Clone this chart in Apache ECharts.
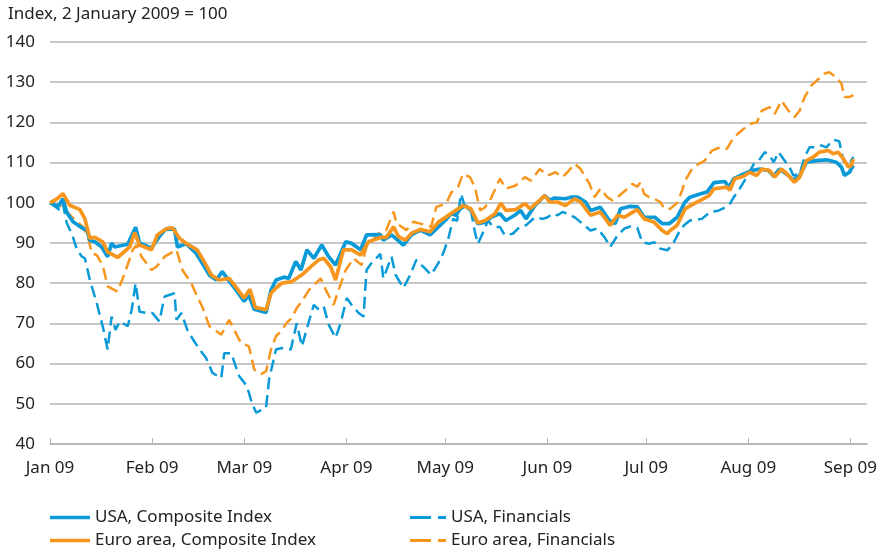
<!DOCTYPE html>
<html>
<head>
<meta charset="utf-8">
<script src="https://cdn.jsdelivr.net/npm/echarts@6/dist/echarts.min.js"></script>
<style>
  html, body { margin: 0; padding: 0; background: #fff; }
  #chart { width: 880px; height: 553px; }
</style>
</head>
<body>
<div id="chart"></div>
<script>
// x values are days since 1 January 2009
const monthStartDays = [0, 31, 59, 90, 120, 151, 181, 212, 243]
const monthLabels = ['Jan 09', 'Feb 09', 'Mar 09', 'Apr 09', 'May 09', 'Jun 09', 'Jul 09', 'Aug 09', 'Sep 09']

// USA, Composite Index
const usaCompDays = [0, 1.5, 2.4, 3.9, 5.1, 7.0, 10.0, 11.2, 12.1, 13.6, 15.7, 17.5, 18.7, 19.6, 23.6, 26.0, 27.2, 30.8, 33.2, 35.1,
  37.8, 38.7, 41.4, 44.4, 46.2, 48.4, 50.5, 52.3, 53.8, 56.5, 58.9, 60.4, 62.0, 65.6, 67.1, 68.6, 71.0, 72.5, 74.6, 76.2,
  78.0, 80.1, 82.5, 84.6, 86.7, 89.8, 91.6, 94.3, 96.1, 100.3, 101.2, 103.7, 107.3, 109.7, 112.4, 115.4, 117.9, 120.0, 121.8, 123.3,
  124.5, 126.0, 127.8, 129.9, 132.1, 133.9, 136.6, 138.4, 141.1, 142.9, 144.5, 147.2, 150.2, 151.7, 153.2, 156.5, 158.1, 160.2, 162.6, 164.1,
  167.1, 169.8, 171.6, 173.2, 175.9, 178.3, 180.4, 183.7, 185.9, 188.0, 190.4, 192.8, 194.3, 197.3, 199.5, 201.6, 204.9, 206.1, 207.6, 210.6,
  213.0, 215.5, 218.2, 219.7, 221.5, 224.2, 225.7, 227.6, 229.7, 232.7, 235.7, 238.7, 240.3, 241.2, 242.7, 243.9]
const usaCompVals = [100, 99.5, 99, 101, 97.6, 95.3, 93.6, 93.2, 90.7, 90.3, 89, 86.6, 90, 89, 89.7, 93.9, 90, 88.7, 91.6, 93.4,
  93.5, 89, 89.8, 87.4, 85, 82, 80.8, 82.9, 81.2, 78.3, 75.5, 77, 73.5, 72.7, 78.3, 80.8, 81.5, 81.2, 85.4, 83.3,
  88.3, 86.2, 89.5, 86.6, 84.5, 90.3, 89.9, 88.3, 92, 92.1, 90.7, 92, 89.5, 92, 93.2, 92, 94, 95.6, 97.3, 96.9,
  98.5, 99.3, 98.1, 94.8, 95.2, 96.4, 97.3, 95.6, 96.9, 98.1, 96, 99.3, 101.8, 100.6, 101.2, 101, 101.4, 101.4, 100.2, 98.1,
  98.9, 95.6, 94.8, 98.5, 99.1, 99, 96.4, 96.4, 94.8, 94.8, 96.4, 100.2, 101.4, 102.2, 102.7, 105, 105.3, 103.9, 106, 107.2,
  108, 108.4, 108, 106.6, 108.4, 106.8, 105.6, 106.8, 110.1, 110.5, 110.7, 110.1, 108.9, 106.8, 107.6, 109.3]

// Euro area, Composite Index
const euroCompDays = [0, 2.1, 3.9, 6.0, 9.1, 10.6, 12.1, 13.6, 16.0, 17.5, 20.5, 24.2, 25.7, 27.2, 30.8, 32.6, 35.4, 37.2, 39.3, 41.7,
  44.7, 47.4, 49.0, 51.4, 54.4, 57.4, 58.9, 60.7, 62.3, 65.6, 67.1, 68.6, 70.4, 73.4, 76.5, 79.2, 81.6, 83.1, 85.2, 86.7,
  89.1, 91.6, 94.3, 96.7, 100.6, 102.1, 104.3, 105.8, 107.9, 109.7, 112.4, 115.4, 117.9, 120.3, 122.4, 123.9, 125.4, 127.8, 129.9, 132.1,
  135.1, 136.9, 138.4, 141.4, 144.2, 145.7, 148.1, 150.2, 151.7, 154.1, 156.5, 159.3, 161.1, 164.1, 167.1, 170.1, 172.3, 174.4, 176.2, 178.3,
  180.4, 183.4, 185.9, 187.4, 188.3, 190.4, 192.8, 195.5, 197.9, 200.1, 201.6, 205.5, 206.4, 207.9, 210.6, 212.4, 214.6, 216.1, 218.5, 220.0,
  222.1, 224.2, 226.0, 227.6, 229.7, 231.8, 233.6, 236.3, 237.8, 239.3, 240.9, 242.4, 243.3, 243.9]
const euroCompVals = [100, 101, 102.3, 99.4, 98.3, 96, 91.2, 91.4, 90.3, 87.8, 86.4, 89, 92.6, 89.5, 88.3, 92, 93.6, 93.8, 91.2, 89.7,
  88.3, 84.5, 82, 80.8, 81.2, 78, 76.3, 78.5, 74, 73.4, 77.5, 78.8, 80, 80.4, 82.1, 84.1, 85.8, 86.2, 84.1, 80.8,
  88.3, 88.3, 87, 90.3, 91.4, 91.4, 94, 91.6, 90.7, 92.4, 93.4, 92.8, 95.2, 96.5, 97.7, 98.5, 99.3, 98.5, 95, 95.6,
  97.3, 99.9, 98.1, 98.3, 99.8, 98.5, 100.2, 101.8, 100.2, 100.2, 99.3, 101, 100.2, 96.9, 97.7, 94.4, 96.9, 96.4, 97.3, 98.3,
  96, 95.2, 93.1, 92.3, 93.1, 94.4, 98.5, 99.8, 100.8, 101.8, 103.5, 103.9, 103.1, 106, 106.6, 107.6, 106.8, 108.4, 108, 106.4,
  108.4, 106.8, 105.1, 106.4, 110.5, 111.4, 112.6, 113, 112.2, 112.6, 110.9, 108.9, 109.3, 110.9]

// USA, Financials
const usaFinDays = [0, 3.0, 3.9, 5.1, 6.6, 8.2, 9.7, 10.6, 12.1, 14.2, 16.0, 17.5, 18.7, 19.9, 21.2, 23.6, 24.8, 26.0, 27.2, 29.3,
  31.1, 33.2, 34.8, 37.8, 38.4, 39.9, 41.7, 43.8, 45.9, 47.4, 49.3, 52.0, 52.9, 55.0, 57.4, 59.8, 61.3, 62.6, 65.6, 66.5,
  68.6, 70.4, 73.1, 74.9, 76.5, 78.6, 80.1, 81.6, 83.1, 84.6, 86.7, 88.2, 90.1, 91.6, 93.7, 95.2, 96.1, 97.6, 100.3, 101.2,
  103.7, 104.9, 107.3, 109.4, 111.2, 113.3, 115.7, 117.9, 119.4, 120.9, 122.4, 123.6, 124.8, 126.0, 127.8, 129.0, 129.9, 131.5, 133.0, 134.5,
  136.6, 138.1, 140.5, 142.6, 144.5, 147.2, 149.6, 151.1, 152.6, 154.1, 155.6, 157.1, 159.3, 161.7, 164.1, 166.2, 168.3, 170.1, 172.3, 174.4,
  176.2, 178.3, 179.8, 181.9, 183.4, 185.3, 187.4, 188.9, 191.0, 192.5, 194.3, 197.9, 200.4, 203.1, 206.1, 207.6, 209.4, 211.5, 213.7, 215.2,
  217.0, 218.5, 219.7, 221.2, 223.0, 224.5, 225.7, 227.6, 229.1, 230.6, 232.7, 234.2, 235.7, 237.8, 239.6, 240.9, 242.4, 243.9]
const usaFinVals = [100, 98.2, 99.8, 94.9, 92.4, 88.3, 86.6, 86.2, 80.8, 75, 69.3, 63.5, 71.7, 68.4, 70.5, 69.3, 73.4, 80, 72.9, 72.6,
  72.6, 70.5, 76.7, 77.5, 70.9, 72.6, 68.4, 65.5, 63, 61.4, 57.7, 56.4, 62.6, 62.6, 56.9, 54.4, 50.2, 47.8, 49, 56,
  63.5, 63.9, 63.5, 70, 64.3, 70.5, 74.6, 73.4, 74.2, 69.7, 66.4, 70, 76.3, 74.6, 72.6, 71.7, 83.3, 85, 87.3, 81.2,
  86.6, 82.1, 78.8, 82.1, 85.8, 84.1, 82.1, 85, 87.5, 91, 96, 95.5, 102.2, 98.9, 98.1, 92.7, 89.8, 92.7, 95.6, 94,
  94, 91.9, 92.3, 94, 94.4, 96.4, 96, 96.4, 97.3, 96.9, 97.7, 97.3, 96.4, 94.8, 93.1, 93.6, 91.5, 89, 91.9, 93.6,
  94.1, 93.8, 90.2, 89.8, 90.2, 88.6, 88.2, 89.4, 92.7, 94.4, 95.6, 96, 97.7, 98.1, 99.3, 101.4, 103.5, 106.4, 109.7, 110.5,
  112.6, 111.8, 110.1, 112.6, 110.5, 108.9, 106.8, 107.2, 111.4, 113.8, 113.8, 114.3, 113.8, 115.7, 115.3, 110.5, 109.3, 111.4]

// Euro area, Financials
const euroFinDays = [0, 3.9, 6.6, 10.0, 11.5, 12.7, 14.2, 16.0, 17.5, 20.5, 22.7, 25.1, 26.3, 27.8, 30.8, 32.3, 34.8, 38.4, 40.2, 42.9,
  44.7, 46.2, 48.4, 52.0, 54.4, 55.9, 58.0, 60.4, 62.0, 64.1, 65.6, 67.1, 68.6, 70.1, 71.9, 73.4, 74.9, 76.5, 78.6, 80.7,
  82.2, 84.0, 86.1, 87.6, 89.8, 92.2, 94.6, 96.1, 100.3, 102.1, 104.3, 105.2, 108.2, 110.3, 113.9, 115.7, 117.3, 120.3, 121.8, 123.9,
  125.4, 127.5, 129.0, 130.6, 132.1, 133.6, 135.4, 136.6, 138.4, 141.4, 144.2, 146.0, 148.7, 151.1, 153.5, 155.6, 157.1, 159.3, 161.1, 163.8,
  165.3, 167.1, 169.2, 170.7, 172.9, 175.3, 176.8, 178.3, 179.2, 180.4, 181.9, 183.4, 185.3, 186.5, 188.3, 190.4, 191.9, 192.8, 194.9, 197.0,
  198.8, 201.0, 203.4, 205.5, 207.6, 210.0, 212.4, 214.6, 216.1, 218.5, 220.0, 222.1, 224.2, 226.0, 227.6, 229.1, 231.2, 233.3, 235.1, 236.6,
  238.7, 240.3, 241.2, 242.7, 243.9]
const euroFinVals = [100, 99, 96.5, 94, 91.6, 87.4, 87, 84.5, 79.2, 77.9, 82.5, 88.3, 89.5, 86.6, 83.3, 84.1, 86.6, 88.3, 83.3, 80,
  76.7, 74.2, 69.3, 67.2, 70.9, 68.4, 65.1, 64.3, 58.5, 57.4, 58.1, 63.5, 66.8, 68, 70.2, 71.3, 73.8, 75.5, 78.3, 80,
  81.2, 77.9, 74.6, 78.3, 83.3, 86.2, 84.5, 89.1, 92.8, 93.2, 97.8, 94.9, 93.2, 95.3, 94.5, 94, 99, 99.8, 102.5, 104,
  107.2, 106.4, 103.9, 98.1, 98.9, 100.6, 103.9, 106, 103.5, 104.3, 106.4, 105.5, 108.4, 106.8, 107.6, 106.4, 107.6, 109.7, 108.4, 104.7,
  101.4, 103.5, 101.4, 100.6, 101.8, 103.5, 104.7, 104, 105, 102.2, 101.4, 101, 100.2, 98.5, 98.5, 100, 103, 105.5, 108.4, 109.7,
  110.5, 113, 113.8, 113.4, 116.3, 118, 119.6, 120, 122.9, 123.8, 122.1, 125.4, 122.9, 121.3, 122.9, 126.3, 129.2, 130.8, 132.1, 132.5,
  131.2, 129.6, 126.3, 126.3, 126.8]

const BLUE = '#0a9ad7'
const ORANGE = '#f7961e'
const GRID = '#b4b4b4'
const TEXT = '#222'
const FONT = 'Noto Sans'
const FS = 17

// legend icons: a solid bar and a "dash  dash" shape (same aspect as the item box)
const SOLID_ICON = 'rect'
const DASH_ICON = 'path://M0,0H21V3H0Z M28,0H36V3H28Z'

function pairs(days, vals) {
  return days.map((d, i) => [d, vals[i]])
}

function legendItem(name, icon, left, top, w, h) {
  return {
    left: left,
    top: top,
    padding: 0,
    itemWidth: w,
    itemHeight: h,
    itemStyle: { borderWidth: 0 },
    textStyle: { fontFamily: FONT, fontSize: FS, color: TEXT },
    data: [{ name: name, icon: icon }]
  }
}

var chart = echarts.init(document.getElementById('chart'), null, { renderer: 'canvas' })

var option = {
  animation: false,
  backgroundColor: '#fff',
  textStyle: { fontFamily: FONT, color: TEXT },
  title: {
    text: 'Index, 2 January 2009 = 100',
    left: 3,
    top: 1,
    textStyle: { fontFamily: FONT, fontSize: FS, fontWeight: 'normal', color: TEXT }
  },
  grid: {
    left: 50,
    right: 10,
    top: 42,
    bottom: 109
  },
  legend: [
    legendItem('USA, Composite Index', SOLID_ICON, 50, 509, 40, 3.5),
    legendItem('Euro area, Composite Index', SOLID_ICON, 50, 532, 40, 3.5),
    legendItem('USA, Financials', DASH_ICON, 410, 509, 36, 3),
    legendItem('Euro area, Financials', DASH_ICON, 410, 532, 36, 3)
  ],
  xAxis: {
    type: 'value',
    min: 0,
    max: 248,
    axisLine: { show: true, lineStyle: { color: GRID, width: 1.5 } },
    axisTick: {
      show: true,
      inside: true,
      length: 6,
      customValues: monthStartDays,
      lineStyle: { color: GRID, width: 1 }
    },
    axisLabel: {
      customValues: monthStartDays,
      margin: 16,
      fontFamily: FONT,
      fontSize: FS,
      color: TEXT,
      formatter: function (v) {
        let i = monthStartDays.indexOf(v)
        return i >= 0 ? monthLabels[i] : ''
      }
    },
    splitLine: { show: false }
  },
  yAxis: {
    type: 'value',
    min: 40,
    max: 140,
    interval: 10,
    axisLine: { show: false },
    axisTick: { show: false },
    axisLabel: { margin: 15, fontFamily: FONT, fontSize: FS, color: TEXT },
    splitLine: { lineStyle: { color: GRID, width: 1.5 } }
  },
  series: [{
    name: 'USA, Financials',
    type: 'line',
    symbol: 'none',
    color: BLUE,
    lineStyle: { color: BLUE, width: 2.5, type: [12, 6] },
    data: pairs(usaFinDays, usaFinVals)
  }, {
    name: 'Euro area, Financials',
    type: 'line',
    symbol: 'none',
    color: ORANGE,
    lineStyle: { color: ORANGE, width: 2.5, type: [12, 6] },
    data: pairs(euroFinDays, euroFinVals)
  }, {
    name: 'USA, Composite Index',
    type: 'line',
    symbol: 'none',
    color: BLUE,
    lineStyle: { color: BLUE, width: 3.7 },
    data: pairs(usaCompDays, usaCompVals)
  }, {
    name: 'Euro area, Composite Index',
    type: 'line',
    symbol: 'none',
    color: ORANGE,
    lineStyle: { color: ORANGE, width: 3.7 },
    data: pairs(euroCompDays, euroCompVals)
  }]
}

chart.setOption(option)
</script>
</body>
</html>
